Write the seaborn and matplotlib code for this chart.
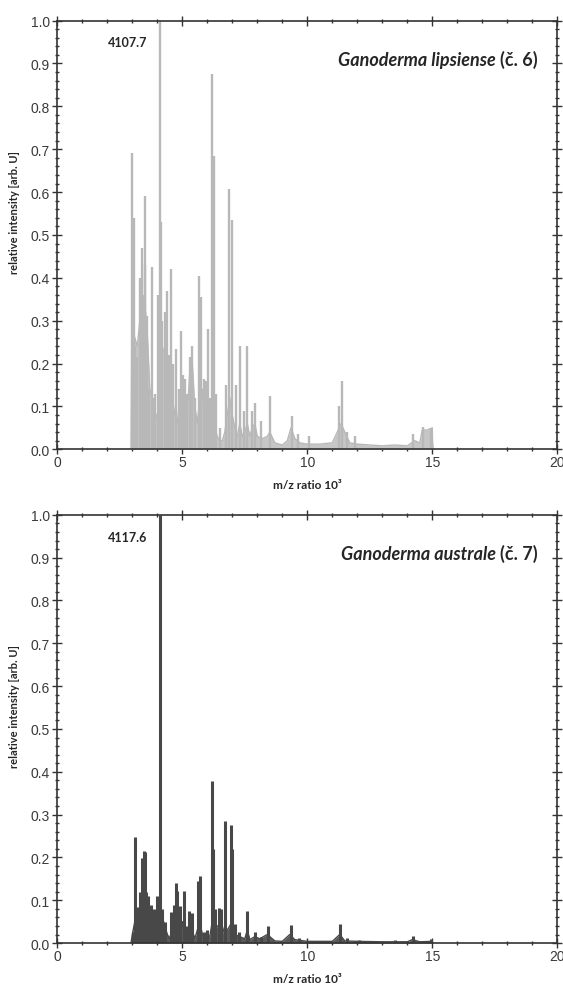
import matplotlib
matplotlib.use("Agg")
import matplotlib.pyplot as plt
from matplotlib.ticker import MultipleLocator, FormatStrFormatter
import numpy as np
import pandas as pd
import seaborn as sns

# --- spectrum 6 : Ganoderma lipsiense (m/z in 10^3, relative intensity) ---
peaks6_mz = [2.98, 3.02, 3.07, 3.12, 3.20, 3.31, 3.40, 3.45, 3.49, 3.51, 3.59, 3.66,
             3.78, 3.84, 3.91, 4.02, 4.108, 4.14, 4.20, 4.30, 4.38, 4.46, 4.55, 4.62,
             4.75, 4.85, 4.96, 5.04, 5.11, 5.20, 5.32, 5.40, 5.50, 5.67, 5.75, 5.86,
             5.95, 6.02, 6.10, 6.20, 6.25, 6.34, 6.50, 6.75, 6.88, 6.99, 7.14, 7.30,
             7.45, 7.58, 7.80, 7.92, 8.14, 8.52, 9.38, 9.63, 10.05, 11.28, 11.37,
             11.59, 11.90, 14.24, 14.61, 14.96]
peaks6_int = [0.69, 0.52, 0.54, 0.24, 0.215, 0.40, 0.47, 0.36, 0.43, 0.59, 0.31, 0.14,
              0.425, 0.12, 0.13, 0.36, 1.0, 0.53, 0.30, 0.32, 0.37, 0.22, 0.42, 0.20,
              0.235, 0.14, 0.275, 0.173, 0.165, 0.13, 0.215, 0.24, 0.12, 0.405, 0.355, 0.165,
              0.16, 0.28, 0.12, 0.876, 0.685, 0.13, 0.05, 0.15, 0.608, 0.534, 0.15, 0.24,
              0.09, 0.24, 0.09, 0.107, 0.065, 0.125, 0.077, 0.036, 0.03, 0.10, 0.16,
              0.04, 0.03, 0.035, 0.052, 0.05]
env6_mz = [2.95, 2.98, 3.1, 3.2, 3.3, 3.4, 3.5, 3.6, 3.7, 3.8, 3.9, 4.0, 4.1, 4.2, 4.3,
           4.4, 4.5, 4.6, 4.7, 4.8, 4.9, 5.0, 5.1, 5.2, 5.3, 5.4, 5.5, 5.6, 5.7, 5.8,
           5.9, 6.0, 6.1, 6.2, 6.3, 6.4, 6.5, 6.6, 6.7, 6.8, 6.9, 7.0, 7.1, 7.2, 7.3,
           7.4, 7.5, 7.6, 7.7, 7.8, 7.9, 8.0, 8.2, 8.4, 8.5, 8.7, 9.0, 9.2, 9.35, 9.5,
           9.7, 10.0, 10.5, 11.0, 11.2, 11.35, 11.5, 11.7, 12.0, 12.5, 13.0, 13.5,
           14.0, 14.3, 14.5, 14.6, 14.8, 15.0, 15.02]
env6_int = [0.0, 0.28, 0.26, 0.24, 0.30, 0.33, 0.34, 0.27, 0.14, 0.12, 0.09, 0.07, 0.10,
            0.22, 0.24, 0.22, 0.16, 0.12, 0.08, 0.06, 0.12, 0.17, 0.14, 0.08, 0.18, 0.20,
            0.10, 0.06, 0.12, 0.14, 0.07, 0.12, 0.06, 0.09, 0.05, 0.03, 0.02, 0.02, 0.04,
            0.08, 0.12, 0.08, 0.05, 0.03, 0.06, 0.03, 0.04, 0.06, 0.03, 0.05, 0.06, 0.03,
            0.025, 0.03, 0.04, 0.015, 0.01, 0.02, 0.05, 0.025, 0.015, 0.012, 0.012, 0.015,
            0.04, 0.06, 0.04, 0.015, 0.012, 0.01, 0.008, 0.01, 0.008, 0.02, 0.015, 0.045,
            0.045, 0.05, 0.0]

# --- spectrum 7 : Ganoderma australe ---
peaks7_mz = [3.02, 3.09, 3.20, 3.30, 3.37, 3.45, 3.50, 3.56, 3.63, 3.76, 3.85, 3.98,
             4.02, 4.118, 4.19, 4.30, 4.54, 4.65, 4.74, 4.78, 4.92, 5.05, 5.17, 5.27,
             5.40, 5.64, 5.70, 5.86, 6.00, 6.17, 6.23, 6.32, 6.48, 6.53, 6.72, 6.93,
             6.99, 7.12, 7.26, 7.58, 7.92, 8.15, 8.43, 9.36, 9.66, 11.31, 11.60, 12.05,
             13.50, 14.21, 14.93]
peaks7_int = [0.025, 0.247, 0.084, 0.12, 0.198, 0.216, 0.213, 0.12, 0.11, 0.088, 0.08, 0.11,
              0.095, 1.0, 0.08, 0.05, 0.072, 0.09, 0.14, 0.122, 0.087, 0.122, 0.04, 0.074,
              0.07, 0.146, 0.156, 0.027, 0.03, 0.378, 0.22, 0.08, 0.082, 0.08, 0.285, 0.276,
              0.22, 0.045, 0.027, 0.076, 0.027, 0.014, 0.04, 0.043, 0.012, 0.045, 0.012, 0.006,
              0.006, 0.016, 0.01]
env7_mz = [2.95, 3.0, 3.1, 3.2, 3.3, 3.4, 3.5, 3.6, 3.7, 3.8, 3.9, 4.0, 4.1, 4.2, 4.3,
           4.4, 4.5, 4.6, 4.7, 4.8, 4.9, 5.0, 5.1, 5.2, 5.3, 5.4, 5.5, 5.6, 5.7, 5.8,
           5.9, 6.0, 6.1, 6.2, 6.3, 6.4, 6.5, 6.6, 6.7, 6.8, 6.9, 7.0, 7.1, 7.3, 7.5,
           7.6, 7.7, 7.9, 8.1, 8.4, 8.5, 8.7, 9.0, 9.3, 9.5, 10.0, 11.0, 11.3, 11.5,
           12.0, 13.0, 14.0, 14.2, 14.5, 15.0, 15.02]
env7_int = [0.0, 0.02, 0.05, 0.06, 0.08, 0.10, 0.09, 0.05, 0.05, 0.05, 0.04, 0.05, 0.07,
            0.06, 0.04, 0.02, 0.01, 0.04, 0.06, 0.04, 0.03, 0.05, 0.02, 0.03, 0.04, 0.03,
            0.01, 0.03, 0.05, 0.02, 0.015, 0.02, 0.015, 0.05, 0.03, 0.04, 0.04, 0.02, 0.04,
            0.03, 0.04, 0.05, 0.02, 0.015, 0.01, 0.03, 0.008, 0.015, 0.01, 0.02, 0.015,
            0.005, 0.004, 0.02, 0.008, 0.004, 0.004, 0.02, 0.005, 0.004, 0.003, 0.003,
            0.008, 0.003, 0.004, 0.0]

panels = [
    dict(peaks=(peaks6_mz, peaks6_int), env=(env6_mz, env6_int), label="4107.7",
         species="Ganoderma lipsiense", tag="(č. 6)", line="#b8b8b8", fill="#c6c6c6",
         lw=1.7),
    dict(peaks=(peaks7_mz, peaks7_int), env=(env7_mz, env7_int), label="4117.6",
         species="Ganoderma australe", tag="(č. 7)", line="#484848", fill="#5a5a5a",
         lw=2.2),
]

sns.set_style("white")
plt.rcParams["font.family"] = ["Liberation Sans", "DejaVu Sans"]

fig = plt.figure(figsize=(5.63, 9.87), dpi=100)
axes = [fig.add_axes([0.1018, 0.5438, 0.888, 0.4343]),
        fig.add_axes([0.1018, 0.0435, 0.888, 0.4339])]

bold = dict(family=["Lato", "DejaVu Sans"], fontweight="bold")

for ax, p in zip(axes, panels):
    env = pd.DataFrame({"mz": p["env"][0], "intensity": p["env"][1]})
    ax.fill_between(env["mz"], 0, env["intensity"], color=p["fill"], lw=0)
    sns.lineplot(data=env, x="mz", y="intensity", ax=ax, color=p["line"], lw=1.0, sort=False)
    ax.vlines(p["peaks"][0], 0, p["peaks"][1], color=p["line"], lw=p["lw"])

    ax.set_xlim(0, 20)
    ax.set_ylim(0, 1.0)
    ax.xaxis.set_major_locator(MultipleLocator(5))
    ax.xaxis.set_minor_locator(MultipleLocator(1))
    ax.yaxis.set_major_locator(MultipleLocator(0.1))
    ax.yaxis.set_minor_locator(MultipleLocator(0.02))
    ax.yaxis.set_major_formatter(FormatStrFormatter("%.1f"))

    for s in ax.spines.values():
        s.set_color("#333333")
        s.set_linewidth(1.2)
    ax.tick_params(which="both", direction="inout", color="#333333", width=1.0,
                   labelsize=10, labelcolor="#3a3a3a",
                   left=True, bottom=True, top=True, right=True)
    ax.tick_params(which="major", length=6.5)
    ax.tick_params(which="minor", length=3.5)
    ax.tick_params(axis="x", pad=1)
    ax.tick_params(axis="y", pad=2)

    ax.set_xlabel("m/z ratio 10³", fontsize=8.5, labelpad=7, **bold)
    ax.set_ylabel("relative intensity [arb. U]", fontsize=8, **bold)
    ax.yaxis.set_label_coords(-0.075, 0.555)

    ax.text(2.03, 0.940, p["label"], fontsize=9, ha="left", va="baseline", **bold)
    t = ax.text(19.23, 0.897, p["tag"], fontsize=13, ha="right", va="baseline", **bold)
    ax.annotate(p["species"], xy=(0, 0), xycoords=t, xytext=(-3.5, 0),
                textcoords="offset points", ha="right", va="bottom",
                fontsize=13, fontstyle="italic", **bold)

fig.savefig("out.png", dpi=100)
